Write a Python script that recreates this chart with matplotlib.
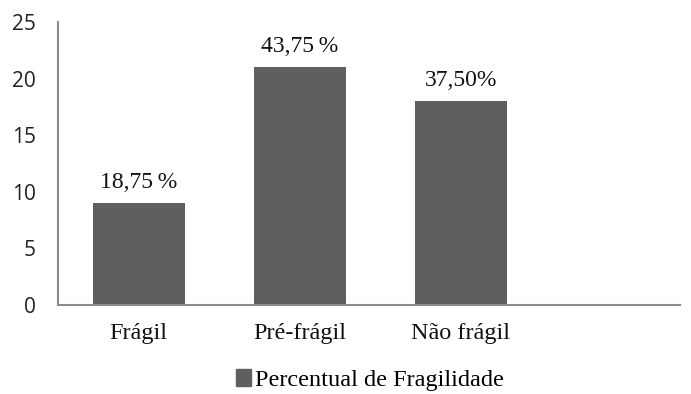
import matplotlib.pyplot as plt
from matplotlib.patches import Patch

# data
categorias = ['Frágil', 'Pré-frágil', 'Não frágil']
valores = [9, 21, 18]
rotulos = ['18,75\u2009%', '43,75\u2009%', '37,50%']
yticks = [0, 5, 10, 15, 20, 25]

cor_barra = '#5f5f5f'
cor_eixo = '#8c8c8c'

fig = plt.figure(figsize=(6.91, 3.94), dpi=100)
ax = fig.add_axes([0.084, 0.226, 0.9, 0.718])

x = range(len(categorias))
bars = ax.bar(x, valores, width=0.57, color=cor_barra)

for b, lab in zip(bars, rotulos):
    ax.annotate(lab, (b.get_x() + b.get_width() / 2, b.get_height()),
                xytext=(0, 11), textcoords='offset points', ha='center', va='baseline',
                fontsize=17, family=['Liberation Serif', 'DejaVu Serif'], color='#111111')

ax.set_xlim(-0.5, 3.36)
ax.set_ylim(0, 25)
ax.set_yticks(yticks)
ax.set_yticklabels([str(t) for t in yticks], fontsize=15, family='Open Sans', color='#222222')
ax.set_xticks(list(x))
ax.set_xticklabels(categorias, fontsize=17.5, family='Liberation Serif', color='#111111')
ax.tick_params(axis='both', length=0)
ax.tick_params(axis='x', pad=13)
ax.tick_params(axis='y', pad=16)

for s in ['top', 'right']:
    ax.spines[s].set_visible(False)
for s in ['left', 'bottom']:
    ax.spines[s].set_color(cor_eixo)
    ax.spines[s].set_linewidth(1.5)

fig.legend(handles=[Patch(color=cor_barra, label='Percentual de Fragilidade')],
           loc='lower center', bbox_to_anchor=(0.535, -0.048), frameon=False,
           prop={'family': 'Liberation Serif', 'size': 17.5},
           handlelength=0.65, handleheight=0.65, handletextpad=0.15)

fig.savefig('out.png', dpi=100)
